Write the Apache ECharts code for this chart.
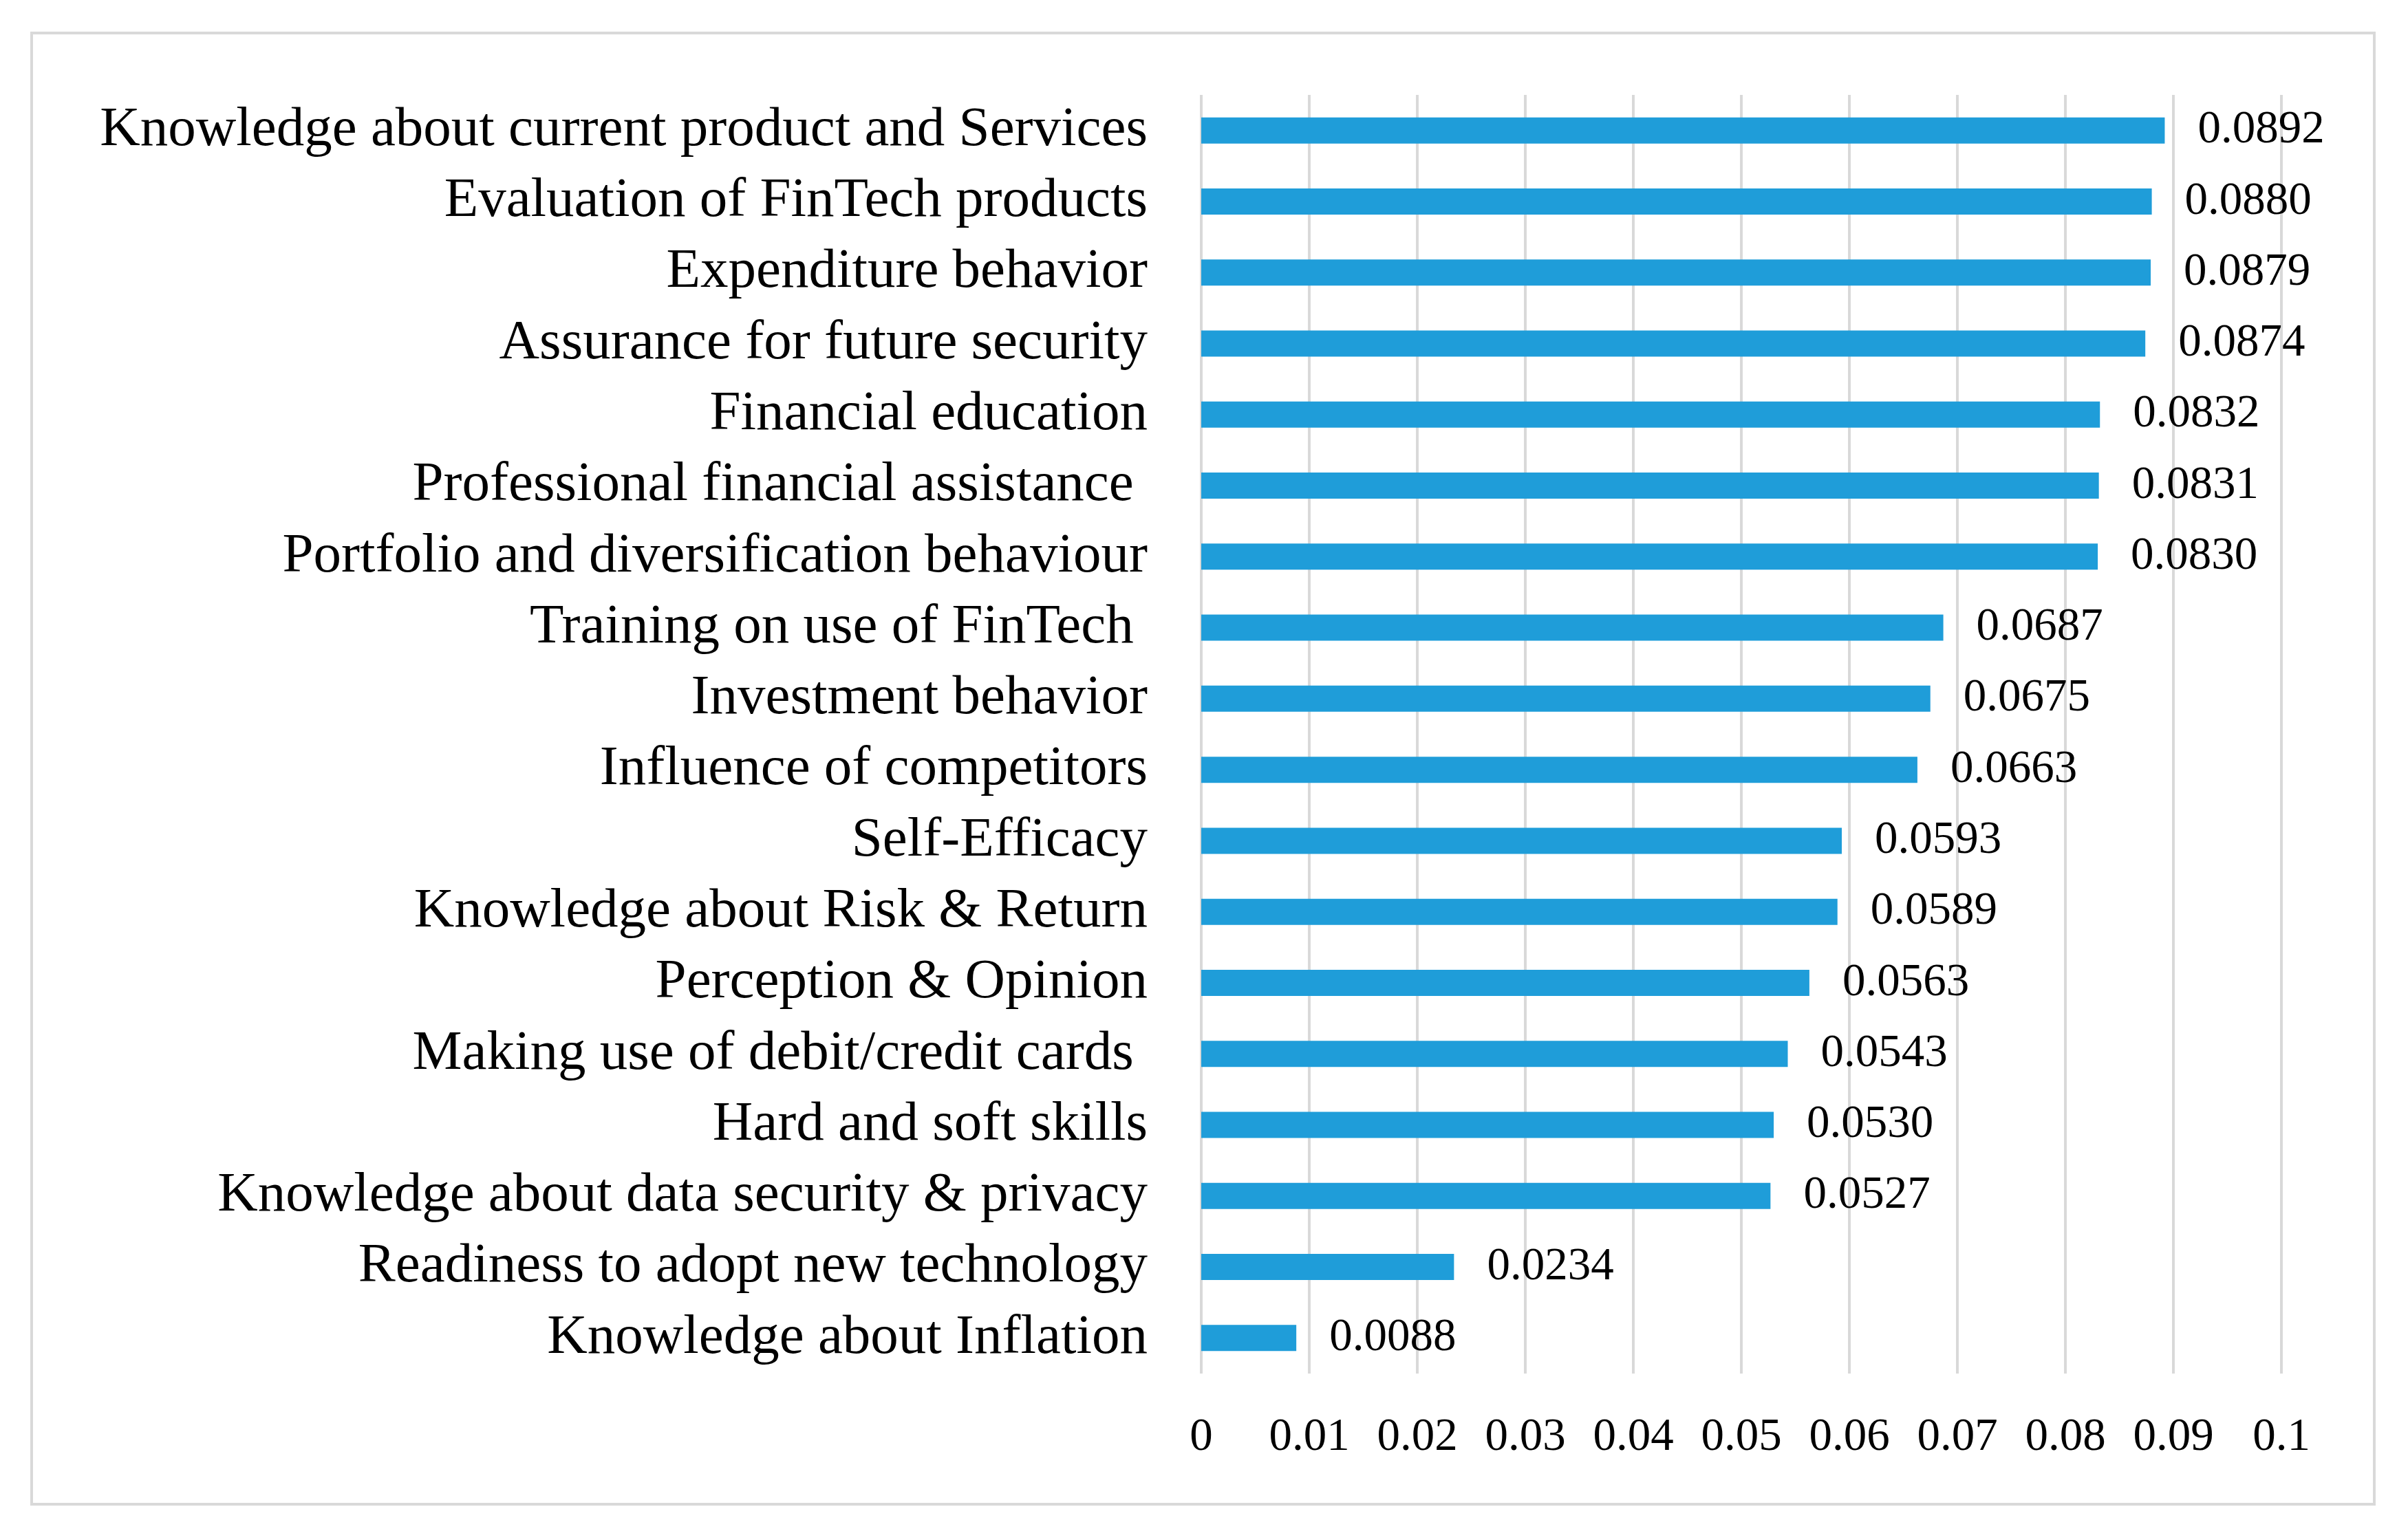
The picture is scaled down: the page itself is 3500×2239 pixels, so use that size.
<!DOCTYPE html>
<html>
<head>
<meta charset="utf-8">
<script src="https://cdn.jsdelivr.net/npm/echarts@6/dist/echarts.min.js"></script>
<style>
html,body{margin:0;padding:0;background:#fff;}
#chart{width:3500px;height:2239px;}
</style>
</head>
<body>
<div id="chart"></div>
<script>
const categories = [
  "Knowledge about current product and Services",
  "Evaluation of FinTech products",
  "Expenditure behavior",
  "Assurance for future security",
  "Financial education",
  "Professional financial assistance ",
  "Portfolio and diversification behaviour",
  "Training on use of FinTech ",
  "Investment behavior",
  "Influence of competitors",
  "Self-Efficacy",
  "Knowledge about Risk & Return",
  "Perception & Opinion",
  "Making use of debit/credit cards ",
  "Hard and soft skills",
  "Knowledge about data security & privacy",
  "Readiness to adopt new technology",
  "Knowledge about Inflation"
];
const values = [0.0892, 0.0880, 0.0879, 0.0874, 0.0832, 0.0831, 0.0830, 0.0687, 0.0675, 0.0663, 0.0593, 0.0589, 0.0563, 0.0543, 0.0530, 0.0527, 0.0234, 0.0088];
const xTicks = ["0", "0.01", "0.02", "0.03", "0.04", "0.05", "0.06", "0.07", "0.08", "0.09", "0.1"];

const FONT = "'Liberation Serif', 'DejaVu Serif', serif";
const chart = echarts.init(document.getElementById('chart'), null, {renderer: 'canvas'});
chart.setOption({
  backgroundColor: '#ffffff',
  animation: false,
  graphic: [{
    type: 'rect',
    shape: {x: 46, y: 48, width: 3405, height: 2139},
    style: {fill: 'none', stroke: '#d9d9d9', lineWidth: 4}
  }],
  grid: {left: 1746, right: 3500 - 3316, top: 138, bottom: 2239 - 1997, containLabel: false},
  xAxis: {
    type: 'value',
    min: 0, max: 0.1, interval: 0.01,
    axisLine: {show: false},
    axisTick: {show: false},
    splitLine: {show: true, lineStyle: {color: '#d9d9d9', width: 4}},
    axisLabel: {
      color: '#000', fontFamily: FONT, fontSize: 67, margin: 60,
      formatter: function (v) { return xTicks[Math.round(v * 100)]; }
    }
  },
  yAxis: {
    type: 'category',
    data: categories,
    inverse: true,
    axisLine: {show: false},
    axisTick: {show: false},
    splitLine: {show: false},
    axisLabel: {color: '#000', fontFamily: FONT, fontSize: 81, margin: 78, interval: 0, hideOverlap: false, lineHeight: 90}
  },
  series: [{
    type: 'bar',
    data: values,
    barWidth: 38,
    itemStyle: {color: '#1f9dd9'},
    label: {
      show: true, position: 'right', distance: 48,
      color: '#000', fontFamily: FONT, fontSize: 67,
      formatter: function (p) { return p.value.toFixed(4); }
    }
  }]
});
</script>
</body>
</html>
